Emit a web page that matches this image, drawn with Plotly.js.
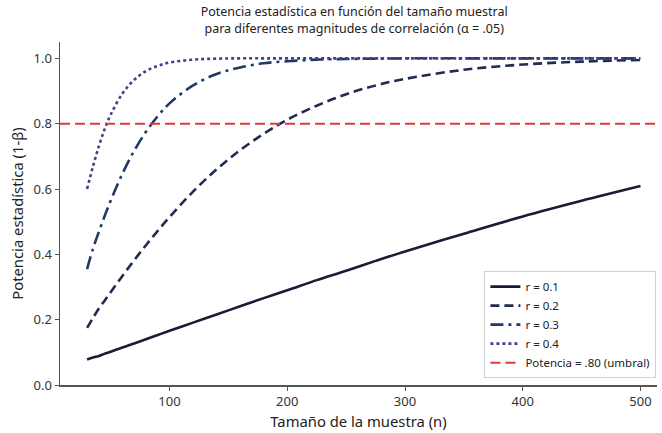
<!DOCTYPE html>
<html>
<head>
<meta charset="utf-8">
<script src="https://cdn.plot.ly/plotly-3.0.1.min.js"></script>
<style>html,body{margin:0;padding:0;background:#fff;}#chart{width:662px;height:433px;}</style>
</head>
<body>
<div id="chart"></div>
<script>
// Sample sizes (n)
const sampleSizes = [30,35,40,45,50,60,70,80,90,100,120,140,160,180,200,225,250,275,300,350,400,450,500];
// Statistical power
const powerR01 = [0.078,0.084,0.089,0.096,0.102,0.115,0.127,0.140,0.153,0.166,0.191,0.216,0.241,0.266,0.290,0.321,0.350,0.380,0.409,0.463,0.516,0.564,0.609];
const powerR02 = [0.175,0.205,0.234,0.259,0.284,0.334,0.382,0.428,0.472,0.514,0.592,0.660,0.719,0.769,0.812,0.855,0.890,0.917,0.937,0.965,0.981,0.990,0.995];
const powerR03 = [0.355,0.417,0.469,0.518,0.564,0.647,0.717,0.775,0.823,0.862,0.917,0.952,0.972,0.985,0.991,0.996,0.998,0.999,1.0,1.0,1.0,1.0,1.0];
const powerR04 = [0.600,0.669,0.731,0.784,0.827,0.892,0.934,0.961,0.977,0.987,0.996,0.999,1.0,1.0,1.0,1.0,1.0,1.0,1.0,1.0,1.0,1.0,1.0];
const seriesNames = ["r = 0.1","r = 0.2","r = 0.3","r = 0.4"];
const thresholdValue = 0.80;
const thresholdName = "Potencia = .80 (umbral)";
const xTicks = [100,200,300,400,500];
const yTicks = [0.0,0.2,0.4,0.6,0.8,1.0];

const FONT = "Noto Sans, Open Sans, sans-serif";
const styles = [
  {color:"#1b1b38", dash:"solid"},
  {color:"#1f2b4f", dash:"9px,5px"},
  {color:"#1f3a66", dash:"13px,5px,3px,5px"},
  {color:"#4b3b8a", dash:"3px,3px"}
];
const series = [powerR01, powerR02, powerR03, powerR04];
const traces = series.map((ys,i)=>({
  x: sampleSizes, y: ys, type:"scatter", mode:"lines", name: seriesNames[i],
  line:{color:styles[i].color, width:2.6, dash:styles[i].dash, shape:"spline"},
  hoverinfo:"skip"
}));

const layout = {
  width:662, height:433,
  paper_bgcolor:"#fff", plot_bgcolor:"#fff",
  margin:{l:60, r:5, t:42, b:48},
  font:{family:FONT, color:"#222", size:13},
  title:{text:"Potencia estadística en función del tamaño muestral<br>para diferentes magnitudes de correlación (α = .05)",
    x:0.535, xanchor:"center", yref:"container", y:0.962, yanchor:"top", font:{family:FONT, size:12.5, color:"#222"}},
  xaxis:{range:[7,514], tickvals:xTicks, ticks:"outside", ticklen:4, tickcolor:"#555",
    showline:true, linecolor:"#555", linewidth:1.5, showgrid:false, zeroline:false,
    tickfont:{family:FONT, size:13, color:"#333"},
    title:{text:"Tamaño de la muestra (n)", font:{family:FONT, size:14.8, color:"#222"}, standoff:7}},
  yaxis:{range:[0,1.05], tickvals:yTicks, tickformat:".1f", ticks:"outside", ticklen:4, tickcolor:"#555",
    showline:true, linecolor:"#555", linewidth:1.5, showgrid:false, zeroline:false,
    tickfont:{family:FONT, size:13, color:"#333"},
    title:{text:"Potencia estadística (1-β)", font:{family:FONT, size:14.8, color:"#222"}, standoff:6}},
  shapes:[{type:"line", xref:"paper", x0:0, x1:1, yref:"y", y0:thresholdValue, y1:thresholdValue,
    line:{color:"#dd3b3b", width:2, dash:"10px,5px"}, showlegend:true, name:thresholdName, legendrank:1000}],
  legend:{x:0.999, xanchor:"right", y:0.02, yanchor:"bottom", bgcolor:"rgba(255,255,255,0.9)",
    bordercolor:"#d0d0d0", borderwidth:1, font:{family:FONT, size:11.5, color:"#222"},
    tracegroupgap:0, itemwidth:30}
};

Plotly.newPlot("chart", traces, layout, {displayModeBar:false, staticPlot:true});
</script>
</body>
</html>
